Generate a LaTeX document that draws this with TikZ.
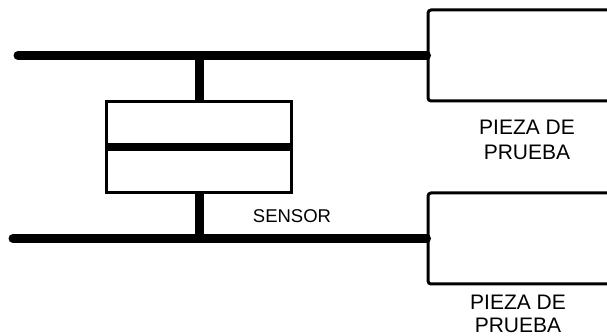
\documentclass[tikz,border=0pt]{standalone}
\usepackage{fontspec}
\setmainfont{Liberation Sans}
\usepackage{tikz}
\usetikzlibrary{positioning}

\tikzset{
  pieza/.style={draw, line width=3pt, rounded corners=3pt, minimum width=212pt, minimum height=91pt, inner sep=0pt},
  sensorbox/.style={draw, line width=3pt, minimum width=185pt, minimum height=91pt, inner sep=0pt},
  barra/.style={line width=9pt},
  rotulo/.style={font=\fontsize{21}{24.5}\selectfont, align=center, inner sep=0pt}
}

\begin{document}
\begin{tikzpicture}[x=1pt, y=-1pt]
    \useasboundingbox (0,0) rectangle (607,336);
    \clip (0,0) rectangle (607,336);
    \node[pieza] (pieza1) at (534,55.5) {};
    \node[pieza] (pieza2) at (534,238.5) {};
    \node[sensorbox] (sensor) at (199,147) {};
    \coordinate (inicio1) at (18,55.5);
    \coordinate (inicio2) at (13,238.5);
    \coordinate (union1) at (199,55.5);
    \coordinate (union2) at (199,238.5);
    \draw[barra, line cap=round] (inicio1) -- (pieza1.west);
    \draw[barra, line cap=round] (inicio2) -- (pieza2.west);
    \draw[barra] (union1) -- (sensor.north);
    \draw[barra] (sensor.south) -- (union2);
    \draw[line width=8pt] (sensor.west) -- (sensor.east);
    \node[rotulo] (rotulo1) at (527,140) {PIEZA DE\\PRUEBA};
    \node[rotulo, font=\fontsize{21}{22.5}\selectfont] (rotulo2) at (518,314) {PIEZA DE\\PRUEBA};
    \node[rotulo, font=\fontsize{18.5}{20}\selectfont] (rotulo3) at (292,216) {SENSOR};
  \end{tikzpicture}
\end{document}
